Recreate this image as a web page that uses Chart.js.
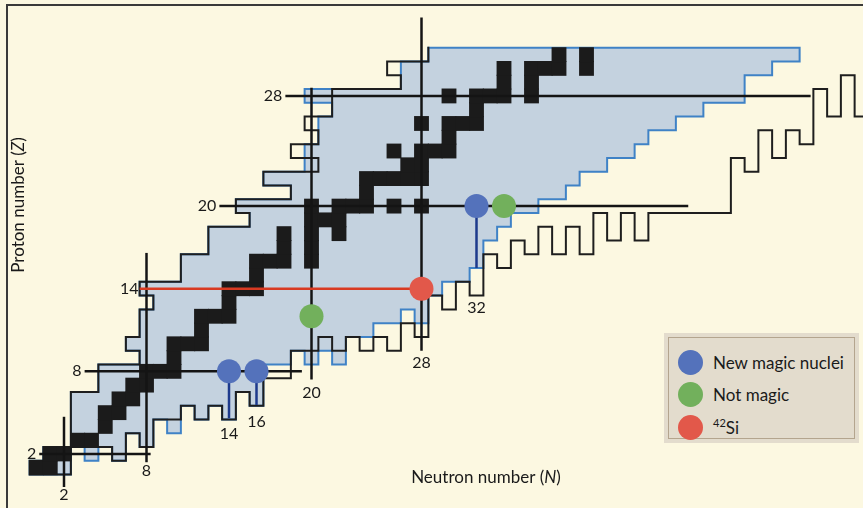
<!DOCTYPE html>
<html>
<head>
<meta charset="utf-8">
<title>Magic numbers on the chart of nuclides</title>
<script src="https://cdn.jsdelivr.net/npm/chart.js@4.4.1/dist/chart.umd.min.js"></script>
<style>
  html, body { margin: 0; padding: 0; background: #fcf8e1; }
  #wrap { position: relative; width: 863px; height: 508px; overflow: hidden; }
  #frame { position: absolute; left: 6px; top: 4px; right: -10px; bottom: -10px;
           border-left: 2px solid #3a3a3a; border-top: 2px solid #3a3a3a; pointer-events: none; }
  .legend { position: absolute; left: 664px; top: 333px; width: 195px; height: 110px;
            box-sizing: border-box; background: #e3dccd; padding: 4px; }
  .legend .inner { border: 1px solid #b4a58e; height: 100%; box-sizing: border-box; padding-top: 8px; }
  .legend .row { display: flex; align-items: center; height: 32.5px; font: 17px Lato, sans-serif; color: #1a1a1a; }
  .legend .dot { width: 25px; height: 25px; border-radius: 50%; margin: 0 10px 0 9px; }
  .legend sup { font-size: 11px; }
</style>
</head>
<body>
<div id="wrap">
  <canvas id="chart" width="863" height="508"></canvas>
  <div id="frame"></div>
  <div class="legend"><div class="inner" id="legend"></div></div>
</div>
<script>
// stable nuclei, [N, Z]
const stable = [
  [0, 1], [1, 1], [1, 2], [2, 2], [3, 3], [4, 3], [5, 4], [5, 5], [6, 5],
  [6, 6], [7, 6], [7, 7], [8, 7], [8, 8], [9, 8], [10, 8], [10, 9],
  [10, 10], [11, 10], [12, 10], [12, 11], [12, 12], [13, 12], [14, 12], [14, 13],
  [14, 14], [15, 14], [16, 14], [16, 15], [16, 16], [17, 16], [18, 16], [20, 16],
  [18, 17], [20, 17], [18, 18], [20, 18], [22, 18], [20, 19], [21, 19], [22, 19],
  [20, 20], [22, 20], [23, 20], [24, 20], [26, 20], [28, 20], [24, 21],
  [24, 22], [25, 22], [26, 22], [27, 22], [28, 22], [27, 23], [28, 23],
  [26, 24], [28, 24], [29, 24], [30, 24], [30, 25], [28, 26], [30, 26], [31, 26], [32, 26],
  [32, 27], [30, 28], [32, 28], [33, 28], [34, 28], [36, 28], [34, 29], [36, 29],
  [34, 30], [36, 30], [37, 30], [38, 30], [40, 30], [38, 31], [40, 31]
];

// known nuclei, rows of [Z, first N, last N]
const knownRows = [
  [1, 0, 2], [2, 1, 2], [2, 4, 4], [2, 6, 6], [3, 3, 6], [3, 8, 8],
  [4, 3, 8], [4, 10, 10], [5, 3, 10], [5, 12, 12], [5, 14, 14], [6, 3, 14], [6, 16, 16],
  [7, 5, 16], [8, 5, 16], [9, 8, 18], [9, 20, 20], [9, 22, 22], [10, 7, 22],
  [11, 8, 24], [12, 8, 26], [12, 28, 28], [13, 9, 28], [14, 8, 29], [15, 11, 31],
  [16, 11, 32], [17, 13, 32], [18, 13, 33], [19, 16, 34], [20, 15, 36], [21, 19, 38],
  [22, 17, 39], [23, 20, 41], [24, 20, 43], [25, 21, 44], [26, 21, 46], [27, 22, 48],
  [28, 20, 51], [29, 27, 51], [30, 27, 53], [31, 29, 55]
];

// proton drip line: lightest bound N for Z = 1..31
const protonDrip = [0, 1, 3, 3, 3, 3, 5, 5, 8, 7, 8, 8, 9, 8, 11, 11, 13, 13, 16, 15,
  19, 17, 21, 19, 21, 20, 22, 22, 27, 26, 29];

// neutron drip line: lowest bound Z for N = 0..62
const neutronDrip = [1, 1, 1, 3, 3, 3, 2, 4, 3, 5, 5, 6, 5, 6, 5, 7, 6, 8, 8, 10,
  10, 11, 10, 11, 10, 11, 10, 12, 11, 14, 13, 15, 14, 17, 16, 18, 17, 19, 17, 19,
  17, 20, 18, 20, 18, 20, 20, 20, 20, 20, 20, 24, 23, 26, 24, 26, 25, 29, 27, 30,
  27, 27, 27];

const magicZ = [2, 8, 20, 28];
const magicN = [2, 8, 20, 28];

const newMagic = [[14, 8], [16, 8], [32, 20]];
const notMagic = [[20, 12], [34, 20]];
const silicon42 = [[28, 14]];

const legendLabels = ["New magic nuclei", "Not magic", "<sup>42</sup>Si"];

// where the guide lines start and stop (data units)
const zLineSpan = { 2: [0.2, 8.3], 8: [3.5, 19.3], 20: [13.3, 47.4], 28: [18.1, 56.3] };
const nLineSpan = { 2: [-0.4, 4.7], 8: [1.4, 16.6], 20: [7.4, 28.6], 28: [9.5, 33.7] };
const redLine = { z: 14, from: 7.5, to: 28 };
const stemEnds = [4.6, 5.55, 15.5];
const bottomLabels = [[2, -1.0, "2"], [8, 0.8, "8"], [14, 3.45, "14"], [16, 4.3, "16"],
  [20, 6.45, "20"], [28, 8.6, "28"], [32, 12.6, "32"]];

const COLORS = {
  fill: "#c4d2df", known: "#3f82c6", drip: "#1e1e1e", stable: "#1b1b1b",
  blue: "#5472bb", green: "#72b05c", red: "#e2584a", stem: "#1d3a8c", redLine: "#d93a22"
};

const pts = (arr) => arr.map(([n, z]) => ({ x: n, y: z }));
const key = (n, z) => n + "," + z;

const knownSet = new Set();
knownRows.forEach(([z, lo, hi]) => {
  for (let n = lo; n <= hi; n++) knownSet.add(key(n, z));
});

const boundSet = new Set();
protonDrip.forEach((lo, i) => {
  const z = i + 1;
  for (let n = lo; n < neutronDrip.length; n++) {
    if (z >= neutronDrip[n]) boundSet.add(key(n, z));
  }
});

function drawEdges(ctx, set, x, y, inDomain) {
  ctx.beginPath();
  set.forEach((k) => {
    const [n, z] = k.split(",").map(Number);
    const l = x.getPixelForValue(n - 0.5), r = x.getPixelForValue(n + 0.5);
    const t = y.getPixelForValue(z + 0.5), b = y.getPixelForValue(z - 0.5);
    if (!set.has(key(n - 1, z)) && inDomain(n - 1, z)) { ctx.moveTo(l, t); ctx.lineTo(l, b); }
    if (!set.has(key(n + 1, z)) && inDomain(n + 1, z)) { ctx.moveTo(r, t); ctx.lineTo(r, b); }
    if (!set.has(key(n, z + 1)) && inDomain(n, z + 1)) { ctx.moveTo(l, t); ctx.lineTo(r, t); }
    if (!set.has(key(n, z - 1)) && inDomain(n, z - 1)) { ctx.moveTo(l, b); ctx.lineTo(r, b); }
  });
  ctx.stroke();
}

const cellsPlugin = {
  id: "cells",
  beforeDatasetsDraw(chart) {
    const { ctx, scales: { x, y } } = chart;
    ctx.save();
    // one path for the whole known region, so no seams between cells
    ctx.beginPath();
    knownRows.forEach(([z, lo, hi]) => {
      const l = x.getPixelForValue(lo - 0.5), r = x.getPixelForValue(hi + 0.5);
      const t = y.getPixelForValue(z + 0.5), b = y.getPixelForValue(z - 0.5);
      ctx.rect(l, t - 0.5, r - l, b - t + 1);
    });
    ctx.fillStyle = COLORS.fill;
    ctx.fill();
    ctx.lineCap = "square";
    ctx.lineWidth = 2;
    ctx.strokeStyle = COLORS.known;
    drawEdges(ctx, knownSet, x, y, () => true);
    ctx.strokeStyle = COLORS.drip;
    drawEdges(ctx, boundSet, x, y, (n, z) => z <= protonDrip.length && n < neutronDrip.length);
    ctx.restore();
  },
  afterDatasetsDraw(chart) {
    const { ctx, scales: { x, y } } = chart;
    ctx.save();
    ctx.fillStyle = "#1a1a1a";
    ctx.font = "16px Lato, sans-serif";
    ctx.textBaseline = "middle";
    ctx.textAlign = "right";
    magicZ.forEach((z) => ctx.fillText(String(z), x.getPixelForValue(zLineSpan[z][0]) - 3, y.getPixelForValue(z)));
    ctx.fillText(String(redLine.z), x.getPixelForValue(redLine.from) - 1, y.getPixelForValue(redLine.z));
    ctx.textAlign = "center";
    bottomLabels.forEach(([n, z, t]) => ctx.fillText(t, x.getPixelForValue(n), y.getPixelForValue(z)));

    // axis titles, with italic symbol
    const title = (parts, cx, cy, rot) => {
      ctx.save();
      ctx.translate(cx, cy);
      ctx.rotate(rot);
      ctx.textAlign = "left";
      const fonts = parts.map((p) => (p.i ? "italic " : "") + "17px Lato, sans-serif");
      let w = 0;
      parts.forEach((p, i) => { ctx.font = fonts[i]; w += ctx.measureText(p.t).width; });
      let px = -w / 2;
      parts.forEach((p, i) => { ctx.font = fonts[i]; ctx.fillText(p.t, px, 0); px += ctx.measureText(p.t).width; });
      ctx.restore();
    };
    title([{ t: "Neutron number (" }, { t: "N", i: true }, { t: ")" }], 486, 478, 0);
    title([{ t: "Proton number (" }, { t: "Z", i: true }, { t: ")" }], 19, 205, -Math.PI / 2);
    ctx.restore();
  }
};

const lineSet = (data, color, width, order) => ({
  data, showLine: true, borderColor: color, borderWidth: width, pointRadius: 0, order, clip: false
});

const datasets = [];
// circles on top
datasets.push({ data: pts(newMagic), pointRadius: 12, backgroundColor: COLORS.blue, borderWidth: 0, order: 1 });
datasets.push({ data: pts(notMagic), pointRadius: 12, backgroundColor: COLORS.green, borderWidth: 0, order: 1 });
datasets.push({ data: pts(silicon42), pointRadius: 12, backgroundColor: COLORS.red, borderWidth: 0, order: 1 });
// stems under the new magic nuclei
newMagic.forEach(([n, z], i) => datasets.push(lineSet([{ x: n, y: z }, { x: n, y: stemEnds[i] }], COLORS.stem, 2.5, 2)));
datasets.push(lineSet([{ x: redLine.from, y: redLine.z }, { x: redLine.to, y: redLine.z }], COLORS.redLine, 2.5, 2));
// magic number guide lines
magicZ.forEach((z) => datasets.push(lineSet([{ x: zLineSpan[z][0], y: z }, { x: zLineSpan[z][1], y: z }], "#141414", 2.5, 3)));
magicN.forEach((n) => datasets.push(lineSet([{ x: n, y: nLineSpan[n][0] }, { x: n, y: nLineSpan[n][1] }], "#141414", 2.5, 3)));
// stable nuclei
datasets.push({ data: pts(stable), pointStyle: "rect", pointRadius: 10.5, backgroundColor: COLORS.stable, borderWidth: 0, order: 4 });

// scale so one nucleus is about 13.75 x 13.77 px
const X_MIN = -36.5 / 13.75, X_MAX = X_MIN + 863 / 13.75;
const Y_MAX = 481.5 / 13.77, Y_MIN = Y_MAX - 508 / 13.77;

new Chart(document.getElementById("chart"), {
  type: "scatter",
  data: { datasets },
  options: {
    responsive: false,
    animation: false,
    events: [],
    layout: { padding: 0, autoPadding: false },
    plugins: { legend: { display: false }, tooltip: { enabled: false } },
    scales: {
      x: { type: "linear", min: X_MIN, max: X_MAX, display: false },
      y: { type: "linear", min: Y_MIN, max: Y_MAX, display: false }
    }
  },
  plugins: [cellsPlugin]
});

// legend
const legendColors = [COLORS.blue, COLORS.green, COLORS.red];
document.getElementById("legend").innerHTML = legendLabels
  .map((t, i) => `<div class="row"><span class="dot" style="background:${legendColors[i]}"></span><span>${t}</span></div>`)
  .join("");
</script>
</body>
</html>
